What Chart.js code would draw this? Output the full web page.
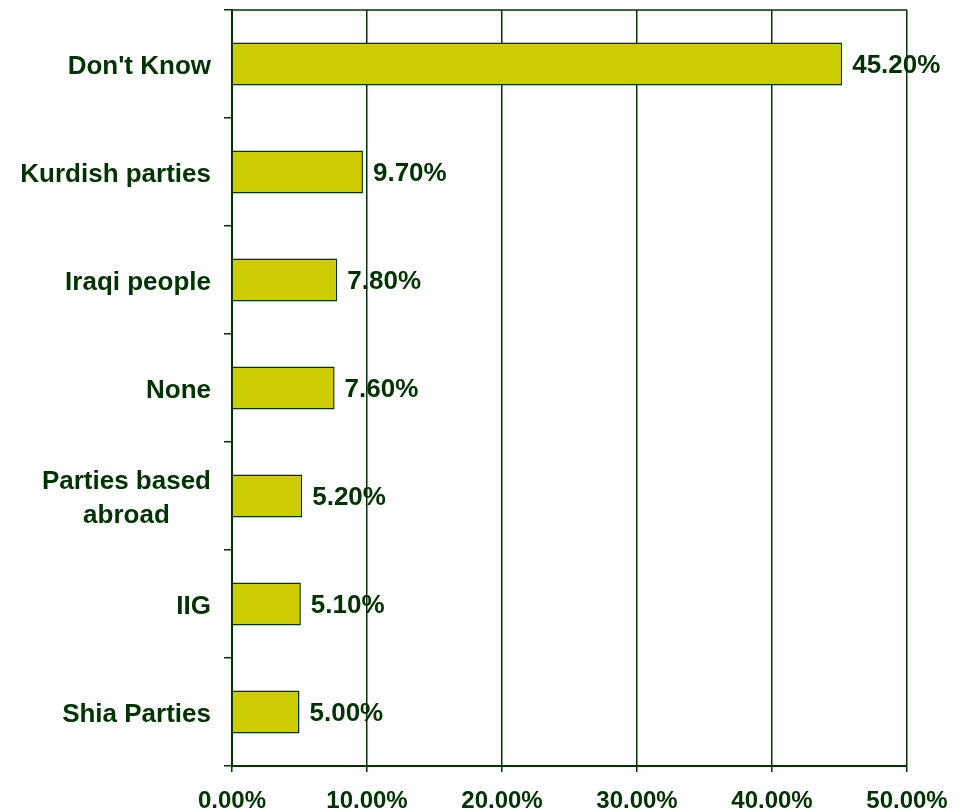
<!DOCTYPE html>
<html>
<head>
<meta charset="utf-8">
<script src="https://cdn.jsdelivr.net/npm/chart.js@4/dist/chart.umd.min.js"></script>
<style>
  html, body { margin: 0; padding: 0; background: #ffffff; }
  #wrap { width: 963px; height: 809px; }
</style>
</head>
<body>
<div id="wrap"><canvas id="c" width="963" height="809"></canvas></div>
<script>
const categories = [
  ["Don't Know"],
  ["Kurdish parties"],
  ["Iraqi people"],
  ["None"],
  ["Parties based", "abroad"],
  ["IIG"],
  ["Shia Parties"]
];
const values = [45.2, 9.7, 7.8, 7.6, 5.2, 5.1, 5.0];
const xTicks = [0, 10, 20, 30, 40, 50];

const DARK = '#003300';
const BAR = '#cccc00';

const customLabels = {
  id: 'customLabels',
  afterDatasetsDraw(chart) {
    const ctx = chart.ctx;
    const area = chart.chartArea;
    ctx.save();
    // top border of plot area
    ctx.strokeStyle = DARK;
    ctx.lineWidth = 1.5;
    ctx.beginPath();
    ctx.moveTo(area.left, area.top);
    ctx.lineTo(area.right, area.top);
    ctx.stroke();

    // data labels
    ctx.fillStyle = DARK;
    ctx.font = 'bold 26px "Liberation Sans", Arial, sans-serif';
    ctx.textAlign = 'left';
    ctx.textBaseline = 'middle';
    const meta = chart.getDatasetMeta(0);
    meta.data.forEach((bar, i) => {
      ctx.fillText(values[i].toFixed(2) + '%', bar.x + 10, bar.y + 2);
    });

    // category labels
    const yScale = chart.scales.y;
    const rightEdge = yScale.right - 21;
    const lh = 34;
    categories.forEach((lines, i) => {
      const cy = yScale.getPixelForValue(i);
      let maxW = 0;
      lines.forEach(l => { maxW = Math.max(maxW, ctx.measureText(l).width); });
      const cx = rightEdge - maxW / 2;
      ctx.textAlign = 'center';
      lines.forEach((l, k) => {
        const y = cy + (k - (lines.length - 1) / 2) * lh + 3;
        ctx.fillText(l, cx, y);
      });
    });
    ctx.restore();
  }
};

new Chart(document.getElementById('c'), {
  type: 'bar',
  data: {
    labels: categories,
    datasets: [{
      data: values,
      backgroundColor: BAR,
      borderColor: DARK,
      borderWidth: 1.5,
      barPercentage: 0.4,
      categoryPercentage: 1.0
    }]
  },
  options: {
    indexAxis: 'y',
    responsive: false,
    animation: false,
    devicePixelRatio: 1,
    layout: { padding: { left: 0, right: 56, top: 10, bottom: 0 } },
    plugins: {
      legend: { display: false },
      tooltip: { enabled: false }
    },
    scales: {
      x: {
        type: 'linear',
        min: 0,
        max: 50,
        afterBuildTicks(scale) { scale.ticks = xTicks.map(v => ({ value: v })); },
        afterFit(scale) { scale.height = 43; },
        ticks: {
          color: DARK,
          font: { family: '"Liberation Sans", Arial, sans-serif', size: 24, weight: 'bold' },
          padding: 15,
          maxRotation: 0,
          callback: v => Number(v).toFixed(2) + '%'
        },
        grid: {
          color: DARK,
          lineWidth: 1.5,
          tickLength: 6,
          drawOnChartArea: true
        },
        border: { color: DARK, width: 2 }
      },
      y: {
        type: 'category',
        afterFit(scale) { scale.width = 232; },
        ticks: { display: false },
        grid: {
          color: DARK,
          lineWidth: 1.5,
          offset: true,
          drawOnChartArea: false,
          drawTicks: true,
          tickLength: 8
        },
        border: { color: DARK, width: 2 }
      }
    }
  },
  plugins: [customLabels]
});
</script>
</body>
</html>
